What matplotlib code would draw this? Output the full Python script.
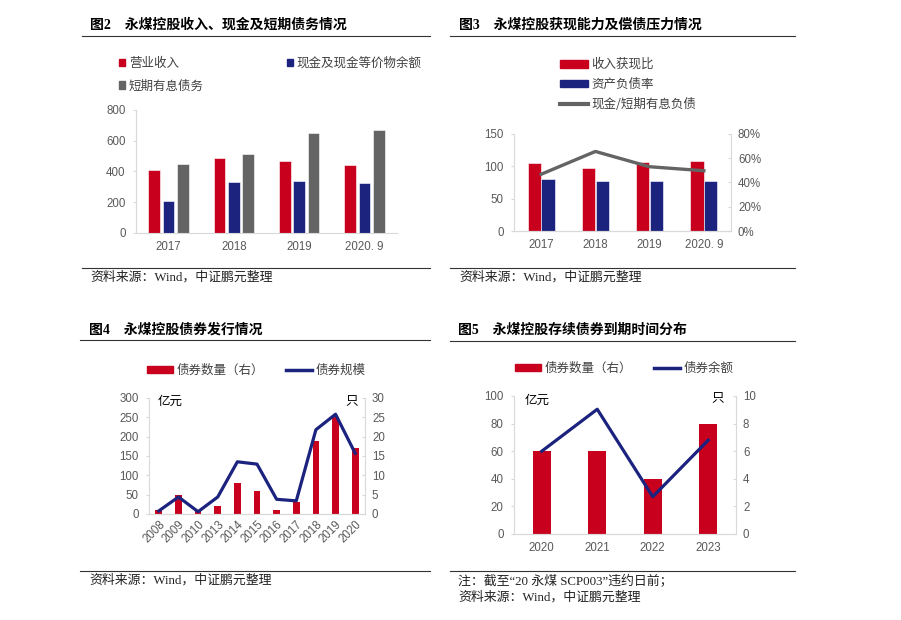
import matplotlib
matplotlib.use("Agg")
import matplotlib.pyplot as plt
from matplotlib.patches import Patch
from matplotlib.lines import Line2D
from matplotlib.ticker import PercentFormatter

# figure 2: revenue, cash and short-term debt
years2 = ["2017", "2018", "2019", "2020. 9"]
revenue = [410, 490, 470, 445]
cash = [210, 333, 338, 328]
st_debt = [450, 515, 650, 667]

# figure 3: cash collection and debt pressure
years3 = ["2017", "2018", "2019", "2020. 9"]
cash_ratio = [105, 97, 106, 108]
debt_ratio = [81, 78, 77, 78]
cash_to_debt = [0.468, 0.656, 0.53, 0.497]

# figure 4: bond issuance
years4 = ["2008", "2009", "2010", "2013", "2014", "2015", "2016", "2017", "2018", "2019", "2020"]
bond_count = [1, 5, 1, 2, 8, 6, 1, 3, 19, 25, 17]
bond_amount = [8, 44, 6, 44, 135, 129, 38, 34, 218, 258, 157]

# figure 5: maturity distribution
years5 = ["2020", "2021", "2022", "2023"]
mat_count = [6, 6, 4, 8]
mat_balance = [60, 90.4, 27, 68]

RED = "#C8001E"
NAVY = "#1B237F"
GRAY = "#646464"
SPINE = "#D9D9D9"
TICK = "#595959"
W, H = 901, 620

plt.rcParams["font.family"] = ["Liberation Sans", "Noto Sans CJK SC"]
plt.rcParams["font.size"] = 8


def box(l, t, r, b):
    return [l / W, 1 - b / H, (r - l) / W, (b - t) / H]


def fx(x):
    return x / W


def fy(y):
    return 1 - y / H


def style(ax, right=False):
    for s in ["top", "right", "left", "bottom"]:
        ax.spines[s].set_visible(False)
    ax.spines["bottom"].set_visible(True)
    ax.spines["bottom"].set_color(SPINE)
    side = "right" if right else "left"
    ax.spines[side].set_visible(True)
    ax.spines[side].set_color(SPINE)
    ax.tick_params(axis="y", colors=SPINE, labelcolor=TICK, length=2.5, pad=5, labelsize=8.3)
    ax.tick_params(axis="x", length=0, labelcolor=TICK, pad=6, labelsize=8.3)


def rule(x0, x1, y):
    fig.add_artist(Line2D([fx(x0), fx(x1)], [fy(y), fy(y)], transform=fig.transFigure,
                          color="#333333", lw=0.8))


fig = plt.figure(figsize=(W / 100, H / 100), dpi=100)

title_font = dict(family=["Liberation Serif", "Noto Sans CJK SC"], fontweight="bold", fontsize=10)
foot_font = dict(family=["Liberation Serif", "Noto Sans CJK SC"], fontsize=9.3, color="#222222")
leg_font = dict(family=["Noto Sans CJK SC"], size=9)

# ---------- figure 2 ----------
fig.text(fx(90), fy(25), "图2　永煤控股收入、现金及短期债务情况", va="center", **title_font)
rule(82, 430, 36)
ax = fig.add_axes(box(136, 110, 397, 233))
x = range(len(years2))
ax.bar([i - 0.22 for i in x], revenue, 0.18, color=RED, edgecolor="white", lw=0.4)
ax.bar(list(x), cash, 0.18, color=NAVY, edgecolor="white", lw=0.4)
ax.bar([i + 0.22 for i in x], st_debt, 0.18, color=GRAY, edgecolor="white", lw=0.4)
ax.set_xlim(-0.5, 3.5)
ax.set_ylim(0, 800)
ax.set_yticks(range(0, 801, 200))
ax.set_xticks(list(x))
ax.set_xticklabels(years2)
style(ax)
h = [Patch(color=RED), Patch(color=GRAY), Patch(color=NAVY)]
ax.legend(h, ["营业收入", "短期有息债务", "现金及现金等价物余额"], ncol=2, loc="upper left",
          bbox_to_anchor=(fx(119), fy(57)), bbox_transform=fig.transFigure, frameon=False,
          borderpad=0, borderaxespad=0, handlelength=0.5, handleheight=0.5, handletextpad=0.3,
          columnspacing=6.6, labelspacing=0.75, prop=leg_font, labelcolor="#404040")
fig.text(fx(90), fy(277), "资料来源：Wind，中证鹏元整理", va="center", **foot_font)
rule(82, 430, 268)

# ---------- figure 3 ----------
fig.text(fx(459), fy(25), "图3　永煤控股获现能力及偿债压力情况", va="center", **title_font)
rule(450, 795, 36)
ax = fig.add_axes(box(514, 134, 731, 231))
x = range(len(years3))
ax.bar([i - 0.125 for i in x], cash_ratio, 0.245, color=RED, edgecolor="white", lw=0.4)
ax.bar([i + 0.125 for i in x], debt_ratio, 0.245, color=NAVY, edgecolor="white", lw=0.4)
ax.set_xlim(-0.5, 3.5)
ax.set_ylim(0, 150)
ax.set_yticks(range(0, 151, 50))
ax.set_xticks(list(x))
ax.set_xticklabels(years3)
style(ax)
ax2 = ax.twinx()
ax2.plot(list(x), cash_to_debt, color=GRAY, lw=2.4)
ax2.set_ylim(0, 0.8)
ax2.set_yticks([0, 0.2, 0.4, 0.6, 0.8])
ax2.yaxis.set_major_formatter(PercentFormatter(1.0, decimals=0))
style(ax2, right=True)
ax2.tick_params(axis="y", direction="in")
h = [Patch(color=RED), Patch(color=NAVY), Line2D([], [], color=GRAY, lw=3)]
ax2.legend(h, ["收入获现比", "资产负债率", "现金/短期有息负债"], loc="upper left",
           bbox_to_anchor=(fx(560), fy(58)), bbox_transform=fig.transFigure, frameon=False,
           borderpad=0, borderaxespad=0, handlelength=2.2, handleheight=0.6, handletextpad=0.3,
           labelspacing=0.55, prop=leg_font, labelcolor="#404040")
fig.text(fx(459), fy(277), "资料来源：Wind，中证鹏元整理", va="center", **foot_font)
rule(450, 795, 268)

# ---------- figure 4 ----------
fig.text(fx(89), fy(330), "图4　永煤控股债券发行情况", va="center", **title_font)
rule(80, 430, 340)
ax = fig.add_axes(box(149, 398, 365, 514))
x = list(range(len(years4)))
ax2 = ax.twinx()
ax2.bar(x, bond_count, 0.34, color=RED)
ax2.set_ylim(0, 30)
ax2.set_yticks(range(0, 31, 5))
ax.plot(x, bond_amount, color=NAVY, lw=2.3)
ax.set_ylim(0, 300)
ax.set_yticks(range(0, 301, 50))
ax.set_xlim(-0.5, len(years4) - 0.5)
ax.set_xticks(x)
ax.set_xticklabels(years4, rotation=45, ha="right", rotation_mode="anchor")
ax.set_zorder(ax2.get_zorder() + 1)
ax.patch.set_visible(False)
style(ax)
style(ax2, right=True)
ax2.tick_params(axis="y", direction="in")
ax.tick_params(axis="x", pad=3)
ax.text(0.04, 0.972, "亿元", transform=ax.transAxes, va="center", ha="left", fontsize=9,
        family=["Noto Sans CJK SC"])
ax.text(0.968, 0.972, "只", transform=ax.transAxes, va="center", ha="right", fontsize=9,
        family=["Noto Sans CJK SC"])
h = [Patch(color=RED), Line2D([], [], color=NAVY, lw=2.5)]
ax.legend(h, ["债券数量（右）", "债券规模"], ncol=2, loc="upper left",
          bbox_to_anchor=(fx(147), fy(364)), bbox_transform=fig.transFigure, frameon=False,
          borderpad=0, borderaxespad=0, handlelength=2.1, handleheight=0.4, handletextpad=0.3,
          columnspacing=1.7, prop=leg_font, labelcolor="#404040")
fig.text(fx(89), fy(580), "资料来源：Wind，中证鹏元整理", va="center", **foot_font)
rule(80, 430, 571)

# ---------- figure 5 ----------
fig.text(fx(458), fy(330), "图5　永煤控股存续债券到期时间分布", va="center", **title_font)
rule(450, 795, 341)
ax = fig.add_axes(box(514, 396, 736, 534))
x = list(range(len(years5)))
ax2 = ax.twinx()
ax2.bar(x, mat_count, 0.32, color=RED)
ax2.set_ylim(0, 10)
ax2.set_yticks(range(0, 11, 2))
ax.plot(x, mat_balance, color=NAVY, lw=2.3)
ax.set_ylim(0, 100)
ax.set_yticks(range(0, 101, 20))
ax.set_xlim(-0.5, len(years5) - 0.5)
ax.set_xticks(x)
ax.set_xticklabels(years5)
ax.set_zorder(ax2.get_zorder() + 1)
ax.patch.set_visible(False)
style(ax)
style(ax2, right=True)
ax2.tick_params(axis="y", direction="in")
ax.text(0.05, 0.97, "亿元", transform=ax.transAxes, va="center", ha="left", fontsize=9,
        family=["Noto Sans CJK SC"])
ax.text(0.946, 0.978, "只", transform=ax.transAxes, va="center", ha="right", fontsize=9,
        family=["Noto Sans CJK SC"])
h = [Patch(color=RED), Line2D([], [], color=NAVY, lw=2.5)]
ax.legend(h, ["债券数量（右）", "债券余额"], ncol=2, loc="upper left",
          bbox_to_anchor=(fx(515), fy(362)), bbox_transform=fig.transFigure, frameon=False,
          borderpad=0, borderaxespad=0, handlelength=2.1, handleheight=0.4, handletextpad=0.3,
          columnspacing=1.7, prop=leg_font, labelcolor="#404040")
fig.text(fx(458), fy(582), "注：截至“20 永煤 SCP003”违约日前；", va="center", **foot_font)
fig.text(fx(458), fy(597), "资料来源：Wind，中证鹏元整理", va="center", **foot_font)
rule(450, 795, 571)

fig.savefig("out.png", dpi=100)
